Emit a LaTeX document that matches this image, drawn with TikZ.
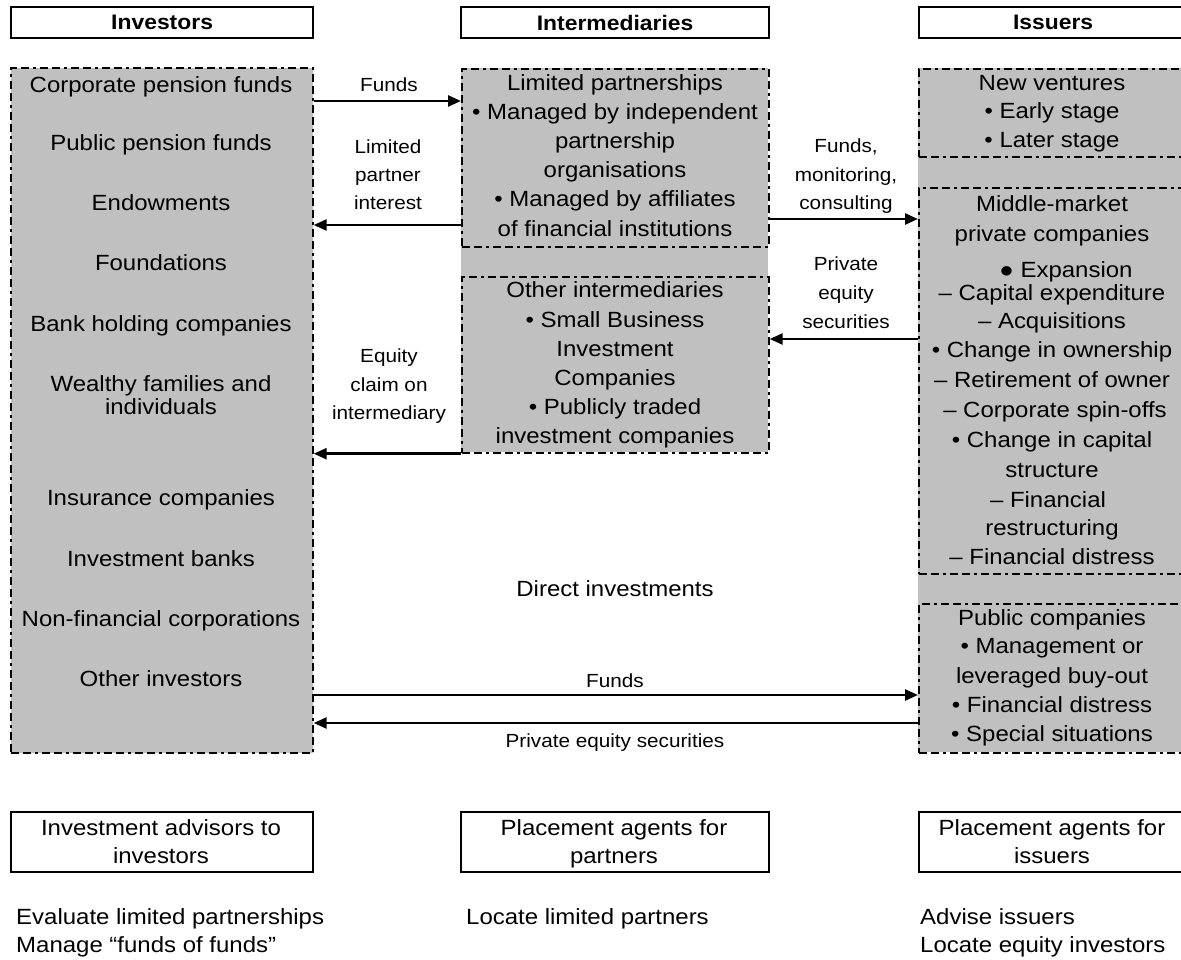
\documentclass[tikz,border=0pt]{standalone}
\usepackage{fontspec}
\setmainfont{Liberation Sans}[FakeStretch=1.09]
\usetikzlibrary{arrows.meta}
\definecolor{colgray}{HTML}{C0C0C0}
\tikzset{
  box/.style={draw, line width=2.2pt, inner sep=0pt, anchor=north west},
  dbox/.style={draw, line width=1.7pt, dash pattern=on 8pt off 4pt on 8pt off 4pt on 3pt off 4pt, inner sep=0pt, anchor=north west},
  graycol/.style={fill=colgray, inner sep=0pt, anchor=north west},
  txt/.style={anchor=base, inner sep=0pt, font=\fontsize{22}{26}\selectfont},
  ltxt/.style={anchor=base west, inner sep=0pt, font=\fontsize{22}{26}\selectfont},
  lbl/.style={anchor=base, inner sep=0pt, font=\fontsize{19}{22}\selectfont},
  hdr/.style={box, font=\fontsize{21}{24}\selectfont\bfseries},
  arr/.style={line width=2.5pt, -{Triangle[length=13pt,width=11pt]}},
}
\begin{document}
\begin{tikzpicture}[x=1pt,y=-1pt]
\clip (0,0) rectangle (1181,960);
\fill[white] (0,0) rectangle (1181,960);

% headers
\node[hdr, minimum width=302pt, minimum height=31pt] (hinv) at (10,6) {Investors};
\node[hdr, minimum width=308pt, minimum height=31pt] (hint) at (460,6) {Intermediaries};
\node[hdr, minimum width=268pt, minimum height=31pt] (hiss) at (918,6) {Issuers};

% investors column
\node[graycol, dbox, minimum width=302pt, minimum height=685pt] (invcol) at (10,67) {};
% intermediaries column
\node[graycol, minimum width=307pt, minimum height=384pt] (intcol) at (461,68) {};
\node[dbox, minimum width=307pt, minimum height=178pt] (lp) at (461,68) {};
\node[dbox, minimum width=307pt, minimum height=176pt] (oi) at (461,276) {};
% issuers column
\node[graycol, minimum width=272pt, minimum height=684pt] (isscol) at (918,68) {};
\node[dbox, minimum width=272pt, minimum height=88pt] (nv) at (918,68) {};
\node[dbox, minimum width=272pt, minimum height=386pt] (mm) at (918,187) {};
\node[dbox, minimum width=272pt, minimum height=149pt] (pc) at (918,603) {};

% investor texts
\foreach \y/\t [count=\i] in {93/Corporate pension funds, 151/Public pension funds, 211/Endowments,
  271/Foundations, 331/Bank holding companies, 391/Wealthy families and, 414/individuals,
  505/Insurance companies, 566/Investment banks, 626/Non-financial corporations, 686/Other investors}
  \node[txt] (inv\i) at (161,\y) {\t};

% intermediaries texts
\foreach \y/\t [count=\i] in {91/Limited partnerships, 120/• Managed by independent, 149/partnership,
  178/organisations, 207/• Managed by affiliates, 237/of financial institutions}
  \node[txt] (lpt\i) at (615,\y) {\t};
\foreach \y/\t [count=\i] in {298/Other intermediaries, 327/• Small Business, 356/Investment,
  385/Companies, 414/• Publicly traded, 443/investment companies}
  \node[txt] (oit\i) at (615,\y) {\t};

% issuers texts
\foreach \y/\t [count=\i] in {91/New ventures, 119/• Early stage, 148/• Later stage}
  \node[txt] (nvt\i) at (1052,\y) {\t};
\foreach \x/\y/\t [count=\i] in {1052/212/Middle-market, 1052/242/private companies,
  1066/277/● Expansion, 1052/301/– Capital expenditure, 1052/328/– Acquisitions,
  1052/357/• Change in ownership, 1052/387/– Retirement of owner, 1055/417/– Corporate spin-offs,
  1052/447/• Change in capital, 1052/477/structure, 1048/507/– Financial, 1052/535/restructuring,
  1052/564/– Financial distress}
  \node[txt] (mmt\i) at (\x,\y) {\t};
\foreach \y/\t [count=\i] in {625/Public companies, 653/• Management or, 683/leveraged buy-out,
  712/• Financial distress, 741/• Special situations}
  \node[txt] (pct\i) at (1052,\y) {\t};

% arrows
\coordinate (y101) at (0,101);
\coordinate (y225) at (0,225);
\coordinate (y219) at (0,219);
\coordinate (y339) at (0,339);
\coordinate (y695) at (0,695);
\coordinate (y723) at (0,723);
\draw[arr] (invcol.east |- y101) -- (lp.west |- y101);
\draw[arr] (lp.west |- y225) -- (invcol.east |- y225);
\draw[arr] (lp.east |- y219) -- (mm.west |- y219);
\draw[arr] (mm.west |- y339) -- (oi.east |- y339);
\draw[arr] (oi.south west) -- (invcol.east |- oi.south west);
\draw[arr] (invcol.east |- y695) -- (pc.west |- y695);
\draw[arr] (pc.west |- y723) -- (invcol.east |- y723);

% arrow labels
\node[lbl] (l1) at (389,92) {Funds};
\node[lbl] (l2a) at (388,154) {Limited};
\node[lbl] (l2b) at (388,182) {partner};
\node[lbl] (l2c) at (388,210) {interest};
\node[lbl] (l3a) at (389,362) {Equity};
\node[lbl] (l3b) at (389,391) {claim on};
\node[lbl] (l3c) at (389,419) {intermediary};
\node[lbl] (l4a) at (846,153) {Funds,};
\node[lbl] (l4b) at (846,182) {monitoring,};
\node[lbl] (l4c) at (846,210) {consulting};
\node[lbl] (l5a) at (846,271) {Private};
\node[lbl] (l5b) at (846,299) {equity};
\node[lbl] (l5c) at (846,328) {securities};
\node[txt] (direct) at (615,596) {Direct investments};
\node[lbl] (l6) at (615,687) {Funds};
\node[lbl] (l7) at (615,747) {Private equity securities};

% bottom boxes
\node[box, minimum width=302pt, minimum height=60pt] (b1) at (10,811) {};
\node[box, minimum width=308pt, minimum height=60pt] (b2) at (460,811) {};
\node[box, minimum width=272pt, minimum height=60pt] (b3) at (918,811) {};
\node[txt] (b1a) at (161,835) {Investment advisors to};
\node[txt] (b1b) at (161,863) {investors};
\node[txt] (b2a) at (614,835) {Placement agents for};
\node[txt] (b2b) at (614,863) {partners};
\node[txt] (b3a) at (1052,835) {Placement agents for};
\node[txt] (b3b) at (1052,863) {issuers};

% bottom notes
\node[ltxt] (n1) at (16,924) {Evaluate limited partnerships};
\node[ltxt] (n2) at (16,952) {Manage “funds of funds”};
\node[ltxt] (n3) at (466,924) {Locate limited partners};
\node[ltxt] (n4) at (920,924) {Advise issuers};
\node[ltxt] (n5) at (920,952) {Locate equity investors};
\end{tikzpicture}
\end{document}
